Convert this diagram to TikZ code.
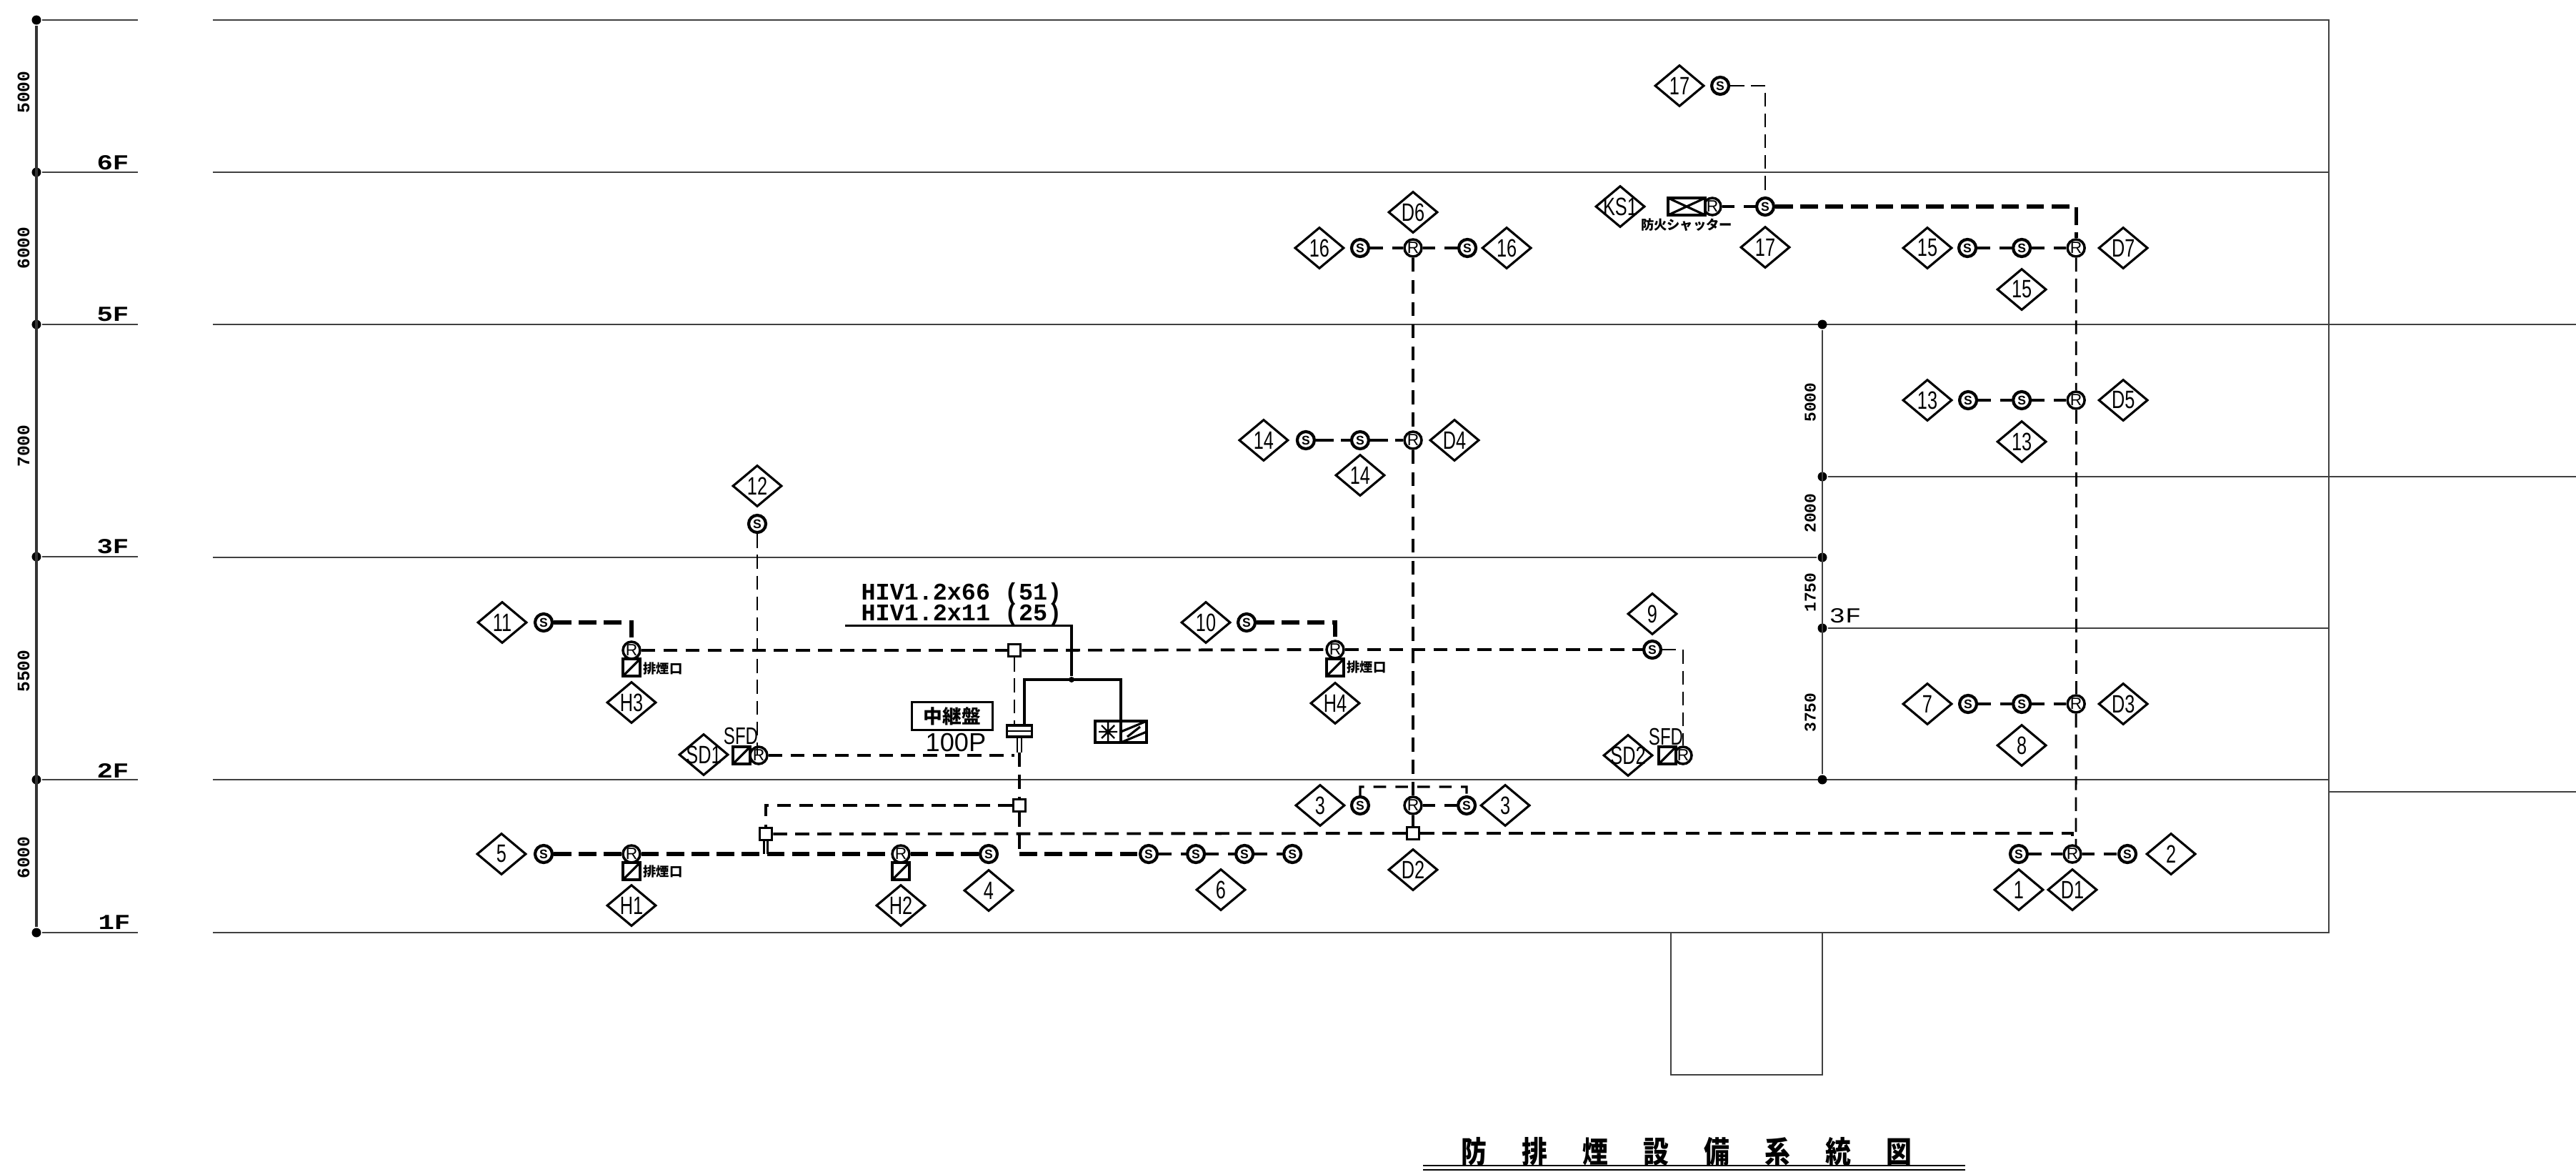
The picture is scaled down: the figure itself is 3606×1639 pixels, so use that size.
\documentclass[tikz,border=0pt]{standalone}
\usepackage{fontspec}
\setmainfont{Liberation Sans}
\newfontfamily\cadnarrow[FakeStretch=0.72]{Liberation Sans}
\newfontfamily\cadmono{Liberation Mono}
\newfontfamily\cadwide[FakeStretch=1.25]{Liberation Mono}
\newfontfamily\cjk{Noto Sans CJK JP}
\newfontfamily\cjktitle[FakeStretch=0.85]{Noto Sans CJK JP}
\usetikzlibrary{shapes.geometric,calc,positioning}

\begin{document}
\begin{tikzpicture}[x=0.01cm, y=-0.01cm, thick, line/.style={draw=black!75, line width=0.7pt}]
    % Define styles for tags, detectors, dampers and wiring
    \tikzstyle{tagd} = [draw, diamond, fill=white, line width=0.9pt, minimum width=0.69cm, minimum height=0.58cm, aspect=1.2, inner sep=-0.05cm, font=\cadnarrow\fontsize{10}{10}\selectfont]
    \tikzstyle{sensor} = [draw, circle, fill=white, line width=1.2pt, minimum size=0.24cm, inner sep=0pt, font=\bfseries\fontsize{5}{5}\selectfont]
    \tikzstyle{relay} = [draw, circle, fill=white, line width=1pt, minimum size=0.24cm, inner sep=0pt, font=\fontsize{6.5}{6.5}\selectfont]
    \tikzstyle{damper} = [draw, rectangle, fill=white, line width=1.1pt, minimum size=0.24cm, inner sep=0pt, path picture={\draw[line width=0.9pt] (path picture bounding box.south west) -- (path picture bounding box.north east);}]
    \tikzstyle{jbox} = [draw, rectangle, fill=white, line width=1pt, minimum size=0.17cm, inner sep=0pt]
    \tikzstyle{dimdot} = [circle, fill=black, minimum size=0.13cm, inner sep=0pt]
    \tikzstyle{floorlab} = [font=\cadwide\bfseries\fontsize{8.5}{8.5}\selectfont]
    \tikzstyle{dimlab} = [rotate=90, font=\cadmono\bfseries\fontsize{7}{7}\selectfont]
    \tikzstyle{smalltxt} = [font=\cjk\bfseries\fontsize{5.2}{5.2}\selectfont, inner sep=0pt]
    \tikzstyle{sfdlab} = [font=\cadnarrow\fontsize{9.5}{9.5}\selectfont, inner sep=0pt]
    \tikzstyle{thindash} = [line width=0.8pt, dash pattern=on 5.5pt off 2.8pt]
    \tikzstyle{middash} = [line width=1.1pt, dash pattern=on 5.6pt off 3.2pt]
    \tikzstyle{thickdash} = [line width=1.5pt, dash pattern=on 7pt off 3pt]
    \tikzstyle{rowdash} = [line width=0.9pt, dash pattern=on 5pt off 3.7pt]

    \fill[white] (0,0) rectangle (3606,1639);
    \useasboundingbox (0,0) rectangle (3606,1639);

    % Left dimension column
    \node [dimdot] (lev0) at (51,28) {};
    \node [dimdot] (lev6) at (51,241) {};
    \node [dimdot] (lev5) at (51,454) {};
    \node [dimdot] (lev3) at (51,779) {};
    \node [dimdot] (lev2) at (51,1091) {};
    \node [dimdot] (lev1) at (51,1305) {};
    \draw[line width=1.2pt, black!80] (lev0) -- (lev1);
    \coordinate (tick0) at (193,28);
    \coordinate (tick6) at (193,241);
    \coordinate (tick5) at (193,454);
    \coordinate (tick3) at (193,779);
    \coordinate (tick2) at (193,1091);
    \coordinate (tick1) at (193,1305);
    \draw[line] (lev0) -- (tick0);
    \draw[line] (lev6) -- (tick6);
    \draw[line] (lev5) -- (tick5);
    \draw[line] (lev3) -- (tick3);
    \draw[line] (lev2) -- (tick2);
    \draw[line] (lev1) -- (tick1);
    \node [dimlab] (dim5000) at (33,129) {5000};
    \node [dimlab] (dim6000) at (33,347) {6000};
    \node [dimlab] (dim7000) at (33,624) {7000};
    \node [dimlab] (dim5500) at (33,939) {5500};
    \node [dimlab] (dim6000b) at (33,1200) {6000};
    \node [floorlab] (lab6f) at (158,228) {6F};
    \node [floorlab] (lab5f) at (158,440) {5F};
    \node [floorlab] (lab3f) at (158,765) {3F};
    \node [floorlab] (lab2f) at (158,1078) {2F};
    \node [floorlab] (lab1f) at (160,1291) {1F};

    % Building outline and floor lines
    \coordinate (bTL) at (298,28);
    \coordinate (bTR) at (3260,28);
    \coordinate (bBL) at (298,1305);
    \coordinate (bBR) at (3260,1305);
    \draw[line] (bBL) -- (bBR) -- (bTR) -- (bTL);
    \coordinate (f6a) at (298,241);
    \coordinate (f6b) at (3260,241);
    \draw[line] (f6a) -- (f6b);
    \coordinate (f5a) at (298,454);
    \coordinate (f5b) at (3606,454);
    \draw[line] (f5a) -- (f5b);
    \coordinate (f2a) at (298,1091);
    \coordinate (f2b) at (3260,1091);
    \draw[line] (f2a) -- (f2b);
    \coordinate (f3a) at (298,780);
    \node [dimdot] (sec5) at (2551,454) {};
    \node [dimdot] (sec4) at (2551,667) {};
    \node [dimdot] (sec3) at (2551,780) {};
    \node [dimdot] (sec2) at (2551,879) {};
    \node [dimdot] (sec1) at (2551,1091) {};
    \draw[line] (sec5) -- (sec1);
    \draw[line] (f3a) -- (sec3);
    \coordinate (r4) at (3606,667);
    \coordinate (r2) at (3260,879);
    \draw[line] (sec4) -- (r4);
    \draw[line] (sec2) -- (r2);
    \coordinate (r1a) at (3260,1108);
    \coordinate (r1b) at (3606,1108);
    \draw[line] (r1a) -- (r1b);
    \coordinate (pitTL) at (2339,1305);
    \coordinate (pitBR) at (2551,1504);
    \draw[line] (pitTL) |- (pitBR) -- (pitBR |- pitTL);
    \node [dimlab, font=\cadmono\bfseries\fontsize{6.5}{6.5}\selectfont] (sd5000) at (2534,563) {5000};
    \node [dimlab, font=\cadmono\bfseries\fontsize{6.5}{6.5}\selectfont] (sd2000) at (2534,718) {2000};
    \node [dimlab, font=\cadmono\bfseries\fontsize{6.5}{6.5}\selectfont] (sd1750) at (2534,829) {1750};
    \node [dimlab, font=\cadmono\bfseries\fontsize{6.5}{6.5}\selectfont] (sd3750) at (2534,997) {3750};
    \node [floorlab, font=\cadwide\fontsize{8.5}{8.5}\selectfont] (labr3f) at (2583,862) {3F};

    % Top right: 5F to roof
    \node [tagd] (t17a) at (2351,120) {17};
    \node [sensor, right of=t17a, node distance=0.57cm] (s17a) {S};
    \node [sensor] (s17b) at (2471,289) {S};
    \node [tagd, below of=s17b, node distance=0.57cm] (t17b) {17};
    \node [tagd] (tks1) at (2268,289) {KS1};
    \node [relay] (rks1) at (2397,289) {R};
    \node [draw, rectangle, fill=white, line width=1.3pt, minimum width=0.52cm, minimum height=0.24cm, inner sep=0pt, path picture={\draw[line width=0.9pt] (path picture bounding box.south west) -- (path picture bounding box.north east) (path picture bounding box.north west) -- (path picture bounding box.south east);}] (shut) at (2361,289) {};
    \node [smalltxt] (shutlab) at (2361,315) {防火シャッター};
    \node [tagd] (t15a) at (2698,347) {15};
    \node [sensor, right of=t15a, node distance=0.56cm] (s15a) {S};
    \node [sensor, right of=s15a, node distance=0.76cm] (s15b) {S};
    \node [relay, right of=s15b, node distance=0.76cm] (rd7) {R};
    \node [tagd, right of=rd7, node distance=0.66cm] (td7) {D7};
    \node [tagd, below of=s15b, node distance=0.58cm] (t15b) {15};
    \node [tagd] (t13a) at (2698,560) {13};
    \node [sensor, right of=t13a, node distance=0.57cm] (s13a) {S};
    \node [sensor, right of=s13a, node distance=0.75cm] (s13b) {S};
    \node [relay, right of=s13b, node distance=0.76cm] (rd5) {R};
    \node [tagd, right of=rd5, node distance=0.66cm] (td5) {D5};
    \node [tagd, below of=s13b, node distance=0.58cm] (t13b) {13};
    \node [tagd] (t7) at (2698,985) {7};
    \node [sensor, right of=t7, node distance=0.57cm] (s7) {S};
    \node [sensor, right of=s7, node distance=0.75cm] (s8) {S};
    \node [relay, right of=s8, node distance=0.76cm] (rd3) {R};
    \node [tagd, right of=rd3, node distance=0.66cm] (td3) {D3};
    \node [tagd, below of=s8, node distance=0.58cm] (t8) {8};
    \node [relay] (rd1) at (2901,1195) {R};
    \node [sensor, left of=rd1, node distance=0.75cm] (s1) {S};
    \node [sensor, right of=rd1, node distance=0.77cm] (s2) {S};
    \node [tagd, right of=s2, node distance=0.61cm] (t2) {2};
    \node [tagd, below of=s1, node distance=0.5cm] (t1) {1};
    \node [tagd, below of=rd1, node distance=0.5cm] (td1) {D1};

    % Middle riser
    \node [relay] (rd6) at (1978,347) {R};
    \node [tagd, above of=rd6, node distance=0.5cm] (td6) {D6};
    \node [sensor, left of=rd6, node distance=0.74cm] (s16a) {S};
    \node [tagd, left of=s16a, node distance=0.57cm] (t16a) {16};
    \node [sensor, right of=rd6, node distance=0.76cm] (s16b) {S};
    \node [tagd, right of=s16b, node distance=0.55cm] (t16b) {16};
    \node [relay] (rd4) at (1978,616) {R};
    \node [tagd, right of=rd4, node distance=0.58cm] (td4) {D4};
    \node [sensor, left of=rd4, node distance=0.74cm] (s14b) {S};
    \node [sensor, left of=s14b, node distance=0.76cm] (s14a) {S};
    \node [tagd, left of=s14a, node distance=0.59cm] (t14a) {14};
    \node [tagd, below of=s14b, node distance=0.49cm] (t14b) {14};
    \node [relay] (rd2) at (1978,1127) {R};
    \node [sensor, left of=rd2, node distance=0.74cm] (s3a) {S};
    \node [tagd, left of=s3a, node distance=0.56cm] (t3a) {3};
    \node [sensor, right of=rd2, node distance=0.75cm] (s3b) {S};
    \node [tagd, right of=s3b, node distance=0.54cm] (t3b) {3};
    \node [jbox] (jd2) at (1978,1166) {};
    \node [tagd, below of=jd2, node distance=0.51cm] (td2) {D2};

    % 2F to 3F row
    \node [tagd] (t11) at (703,871) {11};
    \node [sensor, right of=t11, node distance=0.58cm] (s11) {S};
    \node [relay] (rh3) at (884,910) {R};
    \node [damper, below of=rh3, node distance=0.24cm] (dh3) {};
    \node [smalltxt] (lh3) at (928,936) {排煙口};
    \node [tagd] (th3) at (884,983) {H3};
    \node [tagd] (t12) at (1060,680) {12};
    \node [sensor, below of=t12, node distance=0.53cm] (s12) {S};
    \node [jbox] (jtop) at (1420,910) {};
    \node [tagd] (t10) at (1688,871) {10};
    \node [sensor, right of=t10, node distance=0.57cm] (s10) {S};
    \node [relay] (rh4) at (1869,909) {R};
    \node [damper, below of=rh4, node distance=0.25cm] (dh4) {};
    \node [smalltxt] (lh4) at (1913,934) {排煙口};
    \node [tagd] (th4) at (1869,984) {H4};
    \node [sensor] (s9) at (2313,909) {S};
    \node [tagd, above of=s9, node distance=0.5cm] (t9) {9};
    \node [relay] (rsd2) at (2356,1057) {R};
    \node [damper, left of=rsd2, node distance=0.22cm] (dsd2) {};
    \node [tagd] (tsd2) at (2279,1057) {SD2};
    \node [sfdlab] (lsd2) at (2332,1031) {SFD};
    \node [relay] (rsd1) at (1062,1057) {R};
    \node [damper, left of=rsd1, node distance=0.24cm] (dsd1) {};
    \node [tagd] (tsd1) at (985,1056) {SD1};
    \node [sfdlab] (lsd1) at (1037,1030) {SFD};

    % Panel, repeater and cable note
    \node [draw, rectangle, line width=1pt, minimum width=1.13cm, minimum height=0.39cm, inner sep=0pt, font=\cjk\bfseries\fontsize{7.6}{7.6}\selectfont] (relaypan) at (1333,1002) {中継盤};
    \node [font=\fontsize{10.3}{10.3}\selectfont, inner sep=0pt] (lab100) at (1338,1039) {100P};
    \node [draw, rectangle, fill=white, line width=1pt, minimum width=0.35cm, minimum height=0.16cm, inner sep=0pt, path picture={\draw[line width=0.8pt] (path picture bounding box.west) -- (path picture bounding box.east);}] (term) at (1427,1023) {};
    \node [draw, rectangle, fill=white, line width=1.3pt, minimum width=0.36cm, minimum height=0.3cm, inner sep=0pt, path picture={\draw[line width=0.7pt] (path picture bounding box.center) ++(-13,0) -- ++(26,0) ++(-13,-13) -- ++(0,26) ++(-9,-4) -- ++(18,-18) ++(0,18) -- ++(-18,-18);}] (alarmL) at (1551,1024) {};
    \node [draw, rectangle, fill=white, line width=1.3pt, minimum width=0.36cm, minimum height=0.3cm, inner sep=0pt, path picture={\draw[line width=0.9pt] (path picture bounding box.west) -- (path picture bounding box.north east) (path picture bounding box.south west) -- (path picture bounding box.east) (path picture bounding box.center) ++(-9,7) -- ++(18,-14);}] (alarmR) at (1587,1024) {};
    \node [font=\cadmono\bfseries\fontsize{9.5}{9.5}\selectfont, inner sep=0pt] (cable1) at (1346,831) {HIV1.2x66 (51)};
    \node [font=\cadmono\bfseries\fontsize{9.5}{9.5}\selectfont, inner sep=0pt] (cable2) at (1346,860) {HIV1.2x11 (25)};

    % 1F row
    \node [tagd] (t5) at (702,1195) {5};
    \node [sensor, right of=t5, node distance=0.59cm] (s5) {S};
    \node [relay] (rh1) at (884,1195) {R};
    \node [damper, below of=rh1, node distance=0.24cm] (dh1) {};
    \node [smalltxt] (lh1) at (928,1220) {排煙口};
    \node [tagd, below of=rh1, node distance=0.72cm] (th1) {H1};
    \node [relay] (rh2) at (1261,1195) {R};
    \node [damper, below of=rh2, node distance=0.24cm] (dh2) {};
    \node [tagd, below of=rh2, node distance=0.72cm] (th2) {H2};
    \node [sensor] (s4) at (1384,1195) {S};
    \node [tagd, below of=s4, node distance=0.51cm] (t4) {4};
    \node [sensor] (s6a) at (1608,1195) {S};
    \node [sensor, right of=s6a, node distance=0.66cm] (s6b) {S};
    \node [sensor, right of=s6b, node distance=0.68cm] (s6c) {S};
    \node [sensor, right of=s6c, node distance=0.67cm] (s6d) {S};
    \node [tagd] (t6) at (1709,1245) {6};
    \node [jbox] (jlow) at (1427,1127) {};
    \node [jbox] (jleft) at (1072,1167) {};

    % Cable note leader
    \coordinate (noteL) at (1183,875.5);
    \coordinate (noteR) at (1500,875.5);
    \node [dimdot, minimum size=0.08cm] (noteJ) at (1500,951) {};
    \coordinate (busL) at (1434,951);
    \coordinate (busR) at (1569,951);
    \draw[line width=1.1pt] (noteL) -- (noteR) -- (noteJ);
    \draw[line width=1.1pt] (term.north -| busL) -- (busL) -- (busR) -- (busR |- alarmL.north);

    % Draw wiring
    \draw[thindash] (s17a) -| (s17b);
    \draw[thickdash] (s17b) -| (rd7);
    \draw[rowdash, line width=1.3pt] (rks1) -- (s17b);
    \draw[thindash] (rd7) -- (rd5);
    \draw[thindash] (rd5) -- (rd3);
    \coordinate (d1top) at (2906,1183);
    \draw[thindash] (rd3) -- (d1top);
    \draw[rowdash] (s15a) -- (s15b);
    \draw[rowdash] (s15b) -- (rd7);
    \draw[rowdash] (s13a) -- (s13b);
    \draw[rowdash] (s13b) -- (rd5);
    \draw[rowdash] (s7) -- (s8);
    \draw[rowdash] (s8) -- (rd3);
    \draw[rowdash, line width=1.2pt] (s1) -- (rd1);
    \draw[rowdash, line width=1.2pt] (rd1) -- (s2);

    \draw[middash, line width=1.4pt] (rd6) -- (rd4);
    \draw[middash, line width=1.4pt] (rd4) -- (rd2);
    \draw[rowdash] (s16a) -- (rd6);
    \draw[rowdash] (rd6) -- (s16b);
    \draw[thickdash, line width=1.3pt] (s14a) -- (s14b);
    \draw[thickdash, line width=1.3pt] (s14b) -- (rd4);
    \coordinate (loop3a) at (1904,1101);
    \coordinate (loop3b) at (2053,1101);
    \draw[rowdash] (s3a) -- (loop3a) -- (loop3b) -- (s3b);
    \draw[rowdash] (rd2) -- (s3b);
    \draw[line width=1.1pt] (rd2) -- (jd2);

    \draw[thickdash] (s11) -| (rh3);
    \draw[middash] (rh3) -- (jtop);
    \draw[middash] (jtop) -- (rh4);
    \draw[middash] (rh4) -- (s9);
    \draw[thickdash] (s10) -| (rh4);
    \draw[thindash] (s9) -| (rsd2);
    \draw[thindash] (s12) -- (s12 |- rsd1);
    \draw[middash] (rsd1) -- (jtop |- rsd1);
    \draw[thindash] (jtop) -- (jtop |- term.north);

    % Vertical trunk to 1F
    \coordinate (trunkT) at (1427,1053);
    \coordinate (trunkB) at (1427,1195);
    \draw[line width=0.7pt, double, double distance=0.9pt] (term) -- (trunkT);
    \draw[middash, line width=1.3pt] (trunkT) -- (jlow);
    \draw[middash, line width=1.3pt] (jlow) -- (trunkB);
    \draw[thickdash] (trunkB) -- (s6a);
    \draw[rowdash, line width=1.4pt] (s6a) -- (s6b);
    \draw[rowdash, line width=1.4pt] (s6b) -- (s6c);
    \draw[rowdash, line width=1.4pt] (s6c) -- (s6d);
    \draw[middash] (jlow) -| (jleft);
    \draw[middash] (jleft) -- (jd2);
    \draw[middash] (jd2) -| (rd1);
    \coordinate (jleftB) at (1072,1195);
    \draw[line width=0.7pt, double, double distance=0.8pt] (jleft) -- (jleftB);
    \draw[thickdash] (s5) -- (rh1);
    \draw[thickdash] (rh1) -- (rh2);
    \draw[thickdash] (rh2) -- (s4);

    % Title
    \node [font=\cjktitle\bfseries\fontsize{12}{12}\selectfont, inner sep=0pt] (title) at (2361,1612) {防\hspace{14pt}排\hspace{14pt}煙\hspace{14pt}設\hspace{14pt}備\hspace{14pt}系\hspace{14pt}統\hspace{14pt}図};
    \coordinate (rule1a) at (1992,1631);
    \coordinate (rule1b) at (2751,1631);
    \coordinate (rule2a) at (1992,1637);
    \coordinate (rule2b) at (2751,1637);
    \draw[line width=0.8pt] (rule1a) -- (rule1b);
    \draw[line width=0.8pt] (rule2a) -- (rule2b);
\end{tikzpicture}
\end{document}
